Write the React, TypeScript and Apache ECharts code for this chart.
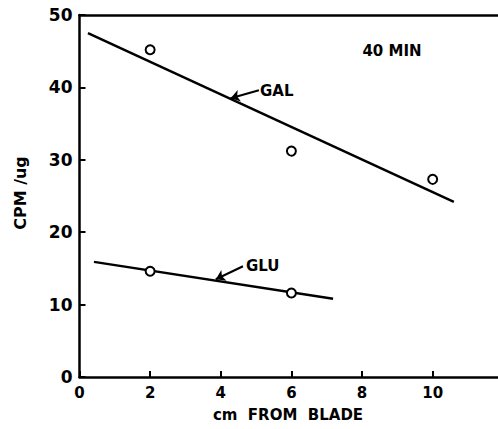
import React, { useEffect, useRef } from "react";
import * as echarts from "echarts";

const xTicks = [0, 2, 4, 6, 8, 10];
const yTicks = [0, 10, 20, 30, 40, 50];

const galX = [2, 6, 10];
const galY = [45.2, 31.2, 27.3];
const galFitX = [0.24, 10.6];
const galFitY = [47.5, 24.2];

const gluX = [2, 6];
const gluY = [14.6, 11.6];
const gluFitX = [0.41, 7.18];
const gluFitY = [15.9, 10.8];

const galArrow = [[5.08, 39.6], [4.28, 38.5]];
const gluArrow = [[4.63, 15.3], [3.86, 13.5]];

const FONT = "'DejaVu Sans', 'Liberation Sans', sans-serif";

export default function App() {
  const ref = useRef<HTMLDivElement>(null);
  useEffect(() => {
    if (!ref.current) return;
    const chart = echarts.init(ref.current, undefined, { renderer: "svg" });
    const pts = (xs: number[], ys: number[]) => xs.map((x, i) => [x, ys[i]]);
    const lineStyle = { color: "#000", width: 2.5 };
    const scatterStyle = { color: "#fff", borderColor: "#000", borderWidth: 2, opacity: 1 };
    chart.setOption({
      animation: false,
      backgroundColor: "#fff",
      grid: { left: 79.5, right: 0, top: 15, bottom: 52, containLabel: false },
      xAxis: [
        {
          type: "value",
          min: 0,
          max: 11.85,
          interval: 2,
          axisLine: { lineStyle: { color: "#000", width: 2.5 } },
          axisTick: { inside: true, length: 6, lineStyle: { color: "#000", width: 2 } },
          axisLabel: {
            color: "#000",
            fontFamily: FONT,
            fontWeight: "bold",
            fontSize: 15,
            margin: 8,
            showMaxLabel: false,
            formatter: (v: number) => (xTicks.includes(v) ? String(v) : ""),
          },
          splitLine: { show: false },
        },
        {
          type: "value",
          position: "top",
          min: 0,
          max: 11.85,
          axisLine: { show: true, onZero: false, lineStyle: { color: "#000", width: 2.5 } },
          axisTick: { show: false },
          axisLabel: { show: false },
          splitLine: { show: false },
        },
      ],
      yAxis: {
        type: "value",
        min: 0,
        max: 50,
        interval: 10,
        axisLine: { show: true, lineStyle: { color: "#000", width: 2.5 } },
        axisTick: { show: true, inside: true, length: 6, lineStyle: { color: "#000", width: 2 } },
        axisLabel: {
          color: "#000",
          fontFamily: FONT,
          fontWeight: "bold",
          fontSize: 17,
          margin: 7,
          formatter: (v: number) => (yTicks.includes(v) ? String(v) : ""),
        },
        splitLine: { show: false },
      },
      graphic: [
        {
          type: "text",
          x: 20,
          y: 193,
          rotation: Math.PI / 2,
          style: {
            text: "CPM /ug",
            fill: "#000",
            font: `bold 16px ${FONT}`,
            align: "center",
            verticalAlign: "middle",
          },
        },
        {
          type: "text",
          x: 288,
          y: 415,
          style: {
            text: "cm  FROM  BLADE",
            fill: "#000",
            font: `bold 15px ${FONT}`,
            align: "center",
            verticalAlign: "middle",
          },
        },
        {
          type: "text",
          x: 392,
          y: 51,
          style: {
            text: "40 MIN",
            fill: "#000",
            font: `bold 15px ${FONT}`,
            align: "center",
            verticalAlign: "middle",
          },
        },
        {
          type: "text",
          x: 260,
          y: 91,
          style: {
            text: "GAL",
            fill: "#000",
            font: `bold 15px ${FONT}`,
            align: "left",
            verticalAlign: "middle",
          },
        },
        {
          type: "text",
          x: 246,
          y: 266,
          style: {
            text: "GLU",
            fill: "#000",
            font: `bold 15px ${FONT}`,
            align: "left",
            verticalAlign: "middle",
          },
        },
      ],
      series: [
        {
          type: "line",
          data: pts(galFitX, galFitY),
          symbol: "none",
          lineStyle,
          z: 2,
        },
        {
          type: "line",
          data: pts(gluFitX, gluFitY),
          symbol: "none",
          lineStyle,
          z: 2,
        },
        {
          type: "lines",
          coordinateSystem: "cartesian2d",
          symbol: ["none", "arrow"],
          symbolSize: 9,
          lineStyle: { color: "#000", width: 2, opacity: 1 },
          data: [{ coords: galArrow }, { coords: gluArrow }],
          z: 3,
        },
        {
          type: "scatter",
          data: pts(galX, galY),
          symbol: "circle",
          symbolSize: 9,
          itemStyle: scatterStyle,
          z: 4,
        },
        {
          type: "scatter",
          data: pts(gluX, gluY),
          symbol: "circle",
          symbolSize: 9,
          itemStyle: scatterStyle,
          z: 4,
        },
      ],
    });
    return () => chart.dispose();
  }, []);
  return (
    <div
      ref={ref}
      style={{ position: "fixed", left: 0, top: 0, width: 498, height: 429, background: "#fff" }}
    />
  );
}
